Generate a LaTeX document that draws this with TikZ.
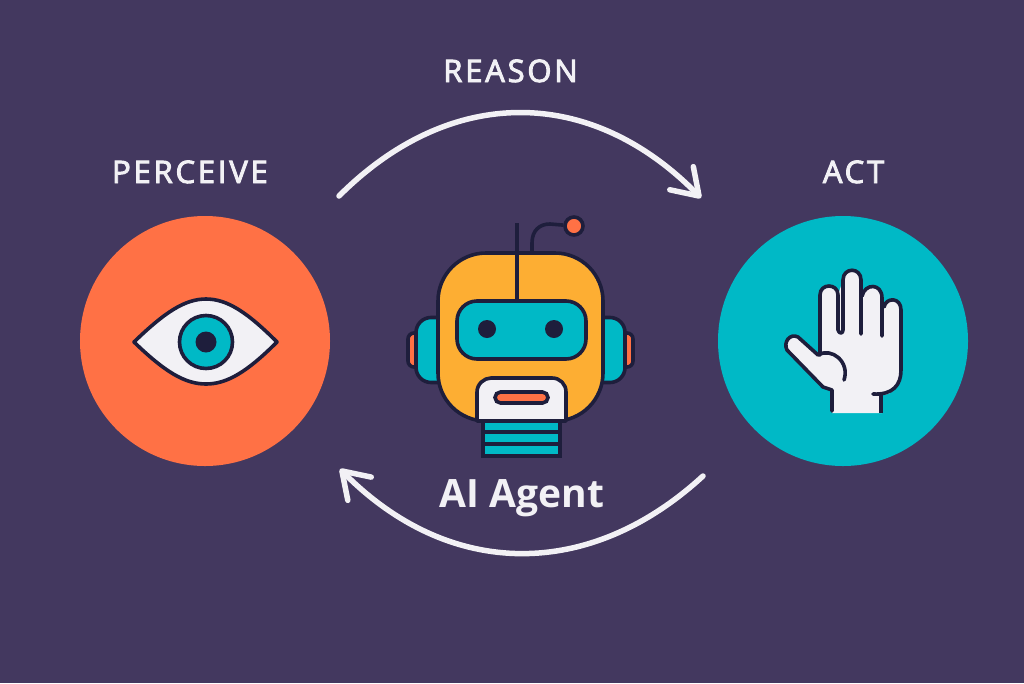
\documentclass[tikz,border=0pt]{standalone}
\usepackage{fontspec}
\setmainfont{Open Sans}
\newfontfamily\labelfont[LetterSpace=9,FakeBold=3]{Open Sans}
\usepackage{tikz}
\usetikzlibrary{arrows.meta}
\definecolor{bgpurple}{HTML}{43385F}
\definecolor{coral}{HTML}{FF7145}
\definecolor{tealc}{HTML}{00B9C6}
\definecolor{amber}{HTML}{FDAE33}
\definecolor{inkc}{HTML}{1E1E3C}
\definecolor{paper}{HTML}{F2F1F5}
\tikzset{
  disc/.style={circle,minimum size=250pt,inner sep=0pt,fill=#1},
  part/.style={rectangle,draw=inkc,line width=3.6pt,inner sep=0pt,fill=#1},
  dot/.style={circle,inner sep=0pt,fill=inkc,minimum size=#1},
  wire/.style={draw=inkc,line width=3.6pt},
  caption/.style={text=paper,font=\labelfont\fontsize{31}{31}\selectfont,inner sep=0pt,anchor=base},
  loop arrow/.style={draw=paper,line width=5.5pt,line cap=round,
    -{Straight Barb[length=25pt,width=33pt,round]}}
}
\begin{document}
\begin{tikzpicture}[x=1pt,y=-1pt]
    \fill[bgpurple] (0,0) rectangle (1024,683);
    \useasboundingbox (0,0) rectangle (1024,683);
    \node[disc=coral] (perceive) at (205,341) {};
    \node[disc=tealc] (act) at (843,341) {};
    \node[caption] (perceivelabel) at (190,183) {PERCEIVE};
    \node[caption] (reasonlabel) at (510.5,82) {REASON};
    \node[caption] (actlabel) at (853.5,183) {ACT};
    \node[text=paper,inner sep=0pt,anchor=base,font=\bfseries\fontsize{39}{39}\selectfont] (agentlabel) at (522,507) {AI Agent};
    \coordinate (reasonstart) at (339,196);
    \coordinate (reasonend) at (701,198);
    \coordinate (returnstart) at (703,476);
    \coordinate (returnend) at (340,469);
    \path[loop arrow] (reasonstart) .. controls (450,85) and (590,85) .. (reasonend);
    \path[loop arrow] (returnstart) .. controls (590,580) and (450,580) .. (returnend);
    % eye
    \draw[wire,fill=paper,line join=round] (134,342) .. controls (165,312) and (185,299) .. (206,299)
        .. controls (227,299) and (247,312) .. (277,342)
        .. controls (247,372) and (227,384) .. (206,384)
        .. controls (185,384) and (165,372) .. (134,342) -- cycle;
    \node[part=tealc,circle,minimum size=53pt] (iris) at (206,342) {};
    \node[dot=21pt] (pupil) at (iris) {};
    % hand
    \fill[paper] (832,413) -- (832,390) -- (823,387) -- (787,350)
        .. controls (783,342) and (790,333) .. (798,337) -- (820,356) -- (820,295)
        .. controls (820,283) and (838,283) .. (838,295) -- (843,280)
        .. controls (843,267) and (861,267) .. (861,280) -- (863,296)
        .. controls (865,283) and (882,283) .. (882,298) -- (884,308)
        .. controls (886,297) and (901,297) .. (901,310) -- (901,370)
        .. controls (901,385) and (893,395) .. (882,395) -- (882,413) -- cycle;
    \draw[wire,line cap=round,line join=round] (832,411) -- (832,390) -- (823,387) -- (787,350)
        .. controls (783,342) and (790,333) .. (798,337) -- (818,355)
        .. controls (832,347) and (850,362) .. (844,380);
    \draw[wire,line cap=round,line join=round] (820,355) -- (820,295)
        .. controls (820,283) and (838,283) .. (838,295) -- (838,330)
        .. controls (839,334) and (843,334) .. (843,330) -- (843,280)
        .. controls (843,267) and (861,267) .. (861,280) -- (861,334);
    \draw[wire,line cap=round,line join=round] (862,296)
        .. controls (865,283) and (882,283) .. (882,298) -- (882,336);
    \draw[wire,line cap=round,line join=round] (884,307)
        .. controls (886,297) and (901,297) .. (901,310) -- (901,370)
        .. controls (901,385) and (893,395) .. (873,394);
    \draw[wire] (881,395) -- (881,413);
    % robot
    \coordinate (rodtop) at (517,223);
    \coordinate (rodfoot) at (517,300);
    \coordinate (stemfoot) at (532,253);
    \node[part=coral,circle,minimum size=18pt] (ball) at (574,226) {};
    \draw[wire] (stemfoot) -- (532,243) .. controls (532,230) and (540,224) .. (550,224) -- (ball);
    \node[part=coral,rounded corners=6pt,minimum width=20pt,minimum height=34pt] (earbackl) at (418,350) {};
    \node[part=coral,rounded corners=6pt,minimum width=20pt,minimum height=34pt] (earbackr) at (623,350) {};
    \node[part=tealc,rounded corners=15pt,minimum width=40pt,minimum height=65pt] (earl) at (436,350) {};
    \node[part=tealc,rounded corners=15pt,minimum width=40pt,minimum height=65pt] (earr) at (605,350) {};
    \node[part=tealc,minimum width=77pt,minimum height=35pt] (neck) at (521.5,438.5) {};
    \draw[wire] (neck.west |- 0,432) -- (neck.east |- 0,432);
    \draw[wire] (neck.west |- 0,444) -- (neck.east |- 0,444);
    \node[part=amber,rounded corners=48pt,minimum width=165pt,minimum height=168pt] (head) at (520.5,337) {};
    \draw[wire] (rodtop) -- (rodfoot);
    \node[part=tealc,rounded corners=20pt,minimum width=129pt,minimum height=58pt] (visor) at (521.5,330) {};
    \node[dot=18pt] (eyel) at (487,329) {};
    \node[dot=18pt] (eyer) at (554,329) {};
    \draw[wire,fill=paper,line join=round] (477,421) -- (477,392) .. controls (477,384) and (484,378) .. (491,378)
        -- (552,378) .. controls (560,378) and (566,384) .. (566,392) -- (566,421) -- cycle;
    \node[part=coral,rounded corners=5.5pt,minimum width=53pt,minimum height=11pt] (mouth) at (521.5,397.5) {};
\end{tikzpicture}
\end{document}
